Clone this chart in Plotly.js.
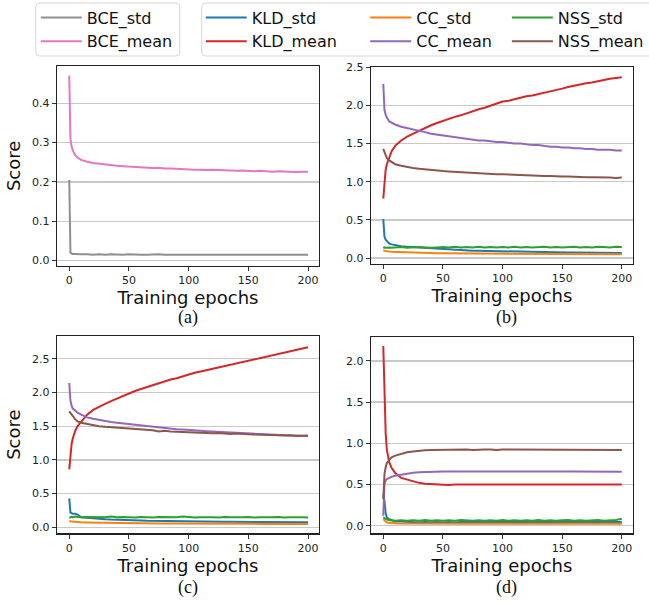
<!DOCTYPE html>
<html><head><meta charset="utf-8">
<script src="https://cdn.plot.ly/plotly-3.0.1.min.js"></script>
<style>html,body{margin:0;padding:0;background:#fff}#chart{width:649px;height:603px}</style>
</head><body><div id="chart"></div>
<script>
// ---------- data ----------
const epochs = [0,1,2,3,5,7,10,15,20,25,30,35,40,45,50,55,60,65,70,75,80,85,90,95,100,105,110,115,120,125,130,135,140,145,150,155,160,165,170,175,180,185,190,195,200];
const xTicks = [0,50,100,150,200];

// (a) BCE
const aBceStd  = [0.205,0.020,0.018,0.017,0.017,0.016,0.016,0.016,0.015,0.016,0.015,0.016,0.015,0.015,0.016,0.015,0.015,0.015,0.016,0.016,0.015,0.015,0.015,0.014,0.015,0.015,0.014,0.015,0.015,0.014,0.015,0.014,0.014,0.015,0.014,0.014,0.015,0.014,0.014,0.014,0.015,0.014,0.014,0.015,0.015];
const aBceMean = [0.470,0.310,0.290,0.280,0.268,0.262,0.256,0.251,0.248,0.246,0.244,0.243,0.241,0.240,0.239,0.238,0.237,0.237,0.235,0.236,0.234,0.234,0.233,0.233,0.232,0.231,0.231,0.230,0.231,0.230,0.229,0.229,0.228,0.229,0.228,0.227,0.228,0.227,0.226,0.227,0.226,0.226,0.225,0.226,0.226];

// (b)
const bKldStd  = [0.51,0.28,0.24,0.22,0.19,0.18,0.17,0.155,0.15,0.145,0.14,0.135,0.13,0.12,0.115,0.11,0.105,0.10,0.10,0.097,0.095,0.093,0.092,0.09,0.09,0.088,0.086,0.085,0.083,0.082,0.08,0.079,0.078,0.077,0.076,0.075,0.074,0.073,0.072,0.071,0.07,0.069,0.068,0.068,0.067];
const bKldMean = [0.78,1.05,1.16,1.23,1.33,1.40,1.47,1.54,1.59,1.63,1.67,1.70,1.74,1.77,1.80,1.82,1.85,1.87,1.90,1.92,1.95,1.97,2.00,2.02,2.05,2.06,2.08,2.10,2.12,2.13,2.15,2.17,2.19,2.20,2.22,2.24,2.26,2.27,2.29,2.30,2.32,2.34,2.35,2.36,2.37];
const bCcStd   = [0.10,0.095,0.09,0.088,0.085,0.082,0.08,0.077,0.075,0.072,0.07,0.068,0.067,0.065,0.064,0.063,0.062,0.061,0.06,0.06,0.059,0.058,0.058,0.057,0.057,0.056,0.056,0.055,0.055,0.055,0.054,0.054,0.054,0.053,0.053,0.053,0.052,0.052,0.052,0.051,0.051,0.051,0.05,0.05,0.05];
const bCcMean  = [2.28,1.94,1.88,1.84,1.79,1.77,1.75,1.72,1.70,1.68,1.66,1.65,1.63,1.62,1.60,1.59,1.58,1.57,1.56,1.55,1.54,1.54,1.53,1.52,1.52,1.51,1.50,1.50,1.49,1.48,1.48,1.47,1.46,1.46,1.45,1.45,1.44,1.44,1.43,1.43,1.42,1.42,1.42,1.41,1.41];
const bNssStd  = [0.13,0.14,0.135,0.14,0.14,0.135,0.14,0.145,0.135,0.14,0.145,0.14,0.135,0.14,0.145,0.14,0.15,0.14,0.145,0.14,0.15,0.14,0.145,0.14,0.145,0.14,0.15,0.14,0.145,0.14,0.145,0.15,0.14,0.145,0.14,0.145,0.15,0.14,0.145,0.14,0.15,0.145,0.14,0.15,0.145];
const bNssMean = [1.43,1.38,1.34,1.31,1.28,1.26,1.23,1.21,1.19,1.18,1.17,1.16,1.15,1.145,1.14,1.135,1.13,1.125,1.12,1.115,1.11,1.11,1.105,1.10,1.10,1.095,1.09,1.09,1.085,1.08,1.08,1.075,1.075,1.07,1.07,1.07,1.065,1.065,1.06,1.06,1.06,1.055,1.055,1.05,1.055];

// (c)
const cKldStd  = [0.43,0.22,0.21,0.20,0.20,0.19,0.15,0.14,0.13,0.125,0.12,0.115,0.11,0.11,0.105,0.10,0.10,0.097,0.095,0.095,0.093,0.092,0.09,0.09,0.089,0.088,0.087,0.086,0.085,0.084,0.083,0.082,0.082,0.081,0.08,0.079,0.078,0.078,0.077,0.076,0.075,0.075,0.074,0.074,0.074];
const cKldMean = [0.86,1.10,1.24,1.32,1.43,1.50,1.57,1.67,1.74,1.79,1.83,1.87,1.91,1.95,1.99,2.02,2.05,2.08,2.10,2.13,2.16,2.19,2.21,2.24,2.27,2.29,2.31,2.33,2.35,2.37,2.39,2.41,2.43,2.45,2.47,2.49,2.51,2.53,2.55,2.57,2.59,2.61,2.63,2.65,2.67];
const cCcStd   = [0.09,0.088,0.085,0.083,0.08,0.078,0.075,0.072,0.07,0.068,0.066,0.065,0.064,0.063,0.062,0.061,0.06,0.06,0.059,0.058,0.058,0.057,0.057,0.056,0.056,0.055,0.055,0.054,0.054,0.054,0.053,0.053,0.053,0.052,0.052,0.052,0.051,0.051,0.051,0.05,0.05,0.05,0.05,0.05,0.05];
const cCcMean  = [2.14,1.88,1.80,1.76,1.73,1.70,1.67,1.63,1.61,1.59,1.57,1.56,1.55,1.54,1.525,1.515,1.505,1.495,1.49,1.48,1.47,1.46,1.455,1.45,1.44,1.435,1.43,1.425,1.42,1.41,1.405,1.40,1.395,1.39,1.385,1.38,1.375,1.37,1.37,1.365,1.36,1.36,1.36,1.355,1.355];
const cNssStd  = [0.14,0.15,0.155,0.15,0.16,0.155,0.15,0.155,0.15,0.155,0.15,0.16,0.15,0.155,0.15,0.145,0.155,0.15,0.145,0.155,0.15,0.155,0.15,0.16,0.15,0.145,0.15,0.155,0.15,0.145,0.155,0.15,0.145,0.15,0.155,0.145,0.15,0.145,0.15,0.155,0.145,0.15,0.145,0.15,0.148];
const cNssMean = [1.72,1.70,1.67,1.65,1.60,1.57,1.55,1.53,1.51,1.50,1.49,1.485,1.475,1.47,1.47,1.46,1.45,1.445,1.44,1.42,1.43,1.42,1.415,1.42,1.41,1.405,1.40,1.40,1.395,1.40,1.39,1.385,1.39,1.38,1.38,1.375,1.375,1.37,1.37,1.365,1.36,1.365,1.355,1.36,1.36];

// (d)
const dKldStd  = [0.38,0.30,0.15,0.10,0.08,0.07,0.05,0.05,0.045,0.045,0.04,0.045,0.04,0.045,0.04,0.045,0.04,0.045,0.045,0.04,0.045,0.04,0.045,0.045,0.04,0.045,0.04,0.045,0.04,0.045,0.045,0.04,0.045,0.04,0.045,0.045,0.04,0.045,0.04,0.045,0.045,0.04,0.045,0.045,0.045];
const dKldMean = [2.18,1.55,1.12,0.92,0.77,0.70,0.64,0.58,0.56,0.535,0.52,0.51,0.505,0.50,0.50,0.495,0.50,0.50,0.495,0.50,0.50,0.495,0.50,0.50,0.50,0.495,0.50,0.50,0.50,0.495,0.50,0.50,0.50,0.50,0.495,0.50,0.50,0.50,0.495,0.50,0.50,0.50,0.50,0.50,0.50];
const dCcStd   = [0.08,0.06,0.05,0.04,0.035,0.03,0.03,0.028,0.027,0.026,0.025,0.026,0.025,0.025,0.024,0.025,0.025,0.026,0.025,0.024,0.025,0.025,0.026,0.025,0.025,0.024,0.025,0.025,0.026,0.025,0.024,0.025,0.025,0.025,0.026,0.025,0.024,0.025,0.025,0.026,0.025,0.025,0.024,0.025,0.025];
const dCcMean  = [0.12,0.50,0.55,0.565,0.58,0.595,0.605,0.62,0.633,0.642,0.648,0.652,0.655,0.656,0.657,0.657,0.658,0.657,0.658,0.658,0.657,0.658,0.658,0.657,0.658,0.658,0.657,0.658,0.658,0.657,0.658,0.657,0.658,0.658,0.657,0.658,0.657,0.658,0.658,0.657,0.657,0.657,0.656,0.657,0.656];
const dNssStd  = [0.10,0.09,0.08,0.075,0.07,0.065,0.06,0.065,0.06,0.065,0.06,0.07,0.06,0.065,0.06,0.065,0.06,0.07,0.065,0.06,0.065,0.06,0.065,0.06,0.07,0.06,0.065,0.06,0.065,0.06,0.07,0.06,0.065,0.06,0.065,0.07,0.06,0.065,0.06,0.065,0.07,0.06,0.065,0.07,0.085];
const dNssMean = [0.32,0.63,0.71,0.76,0.80,0.83,0.85,0.87,0.89,0.90,0.91,0.915,0.918,0.92,0.92,0.925,0.92,0.925,0.925,0.92,0.925,0.925,0.925,0.92,0.925,0.925,0.92,0.925,0.925,0.92,0.925,0.92,0.925,0.92,0.925,0.92,0.925,0.92,0.92,0.925,0.92,0.92,0.92,0.92,0.92];

const panelLabels = ['(a)','(b)','(c)','(d)'];

// ---------- styling ----------
const W = 649, H = 603;
const fx = p => p / W;
const fy = p => 1 - p / H;
const COL = {gray:'#8f8f8f', pink:'#e377c2', blue:'#1f77b4', orange:'#ff7f0e', green:'#2ca02c', red:'#d62728', purple:'#9467bd', brown:'#8c564b'};
const SANS = 'DejaVu Sans, sans-serif';

function line(y, name, color, ax, legend, show) {
  return {x: epochs, y: y, name: name, type: 'scatter', mode: 'lines',
    line: {color: color, width: 2}, xaxis: 'x' + (ax === 1 ? '' : ax), yaxis: 'y' + (ax === 1 ? '' : ax),
    legend: legend, showlegend: show, hoverinfo: 'skip'};
}

const traces = [
  line(aBceStd, 'BCE_std', COL.gray, 1, 'legend', true),
  line(aBceMean, 'BCE_mean', COL.pink, 1, 'legend', true),

  line(bKldStd, 'KLD_std', COL.blue, 2, 'legend2', true),
  line(bKldMean, 'KLD_mean', COL.red, 2, 'legend2', true),
  line(bCcStd, 'CC_std', COL.orange, 2, 'legend3', true),
  line(bCcMean, 'CC_mean', COL.purple, 2, 'legend3', true),
  line(bNssStd, 'NSS_std', COL.green, 2, 'legend4', true),
  line(bNssMean, 'NSS_mean', COL.brown, 2, 'legend4', true),

  line(cKldStd, 'KLD_std', COL.blue, 3, 'legend2', false),
  line(cKldMean, 'KLD_mean', COL.red, 3, 'legend2', false),
  line(cCcStd, 'CC_std', COL.orange, 3, 'legend3', false),
  line(cCcMean, 'CC_mean', COL.purple, 3, 'legend3', false),
  line(cNssStd, 'NSS_std', COL.green, 3, 'legend4', false),
  line(cNssMean, 'NSS_mean', COL.brown, 3, 'legend4', false),

  line(dKldStd, 'KLD_std', COL.blue, 4, 'legend2', false),
  line(dKldMean, 'KLD_mean', COL.red, 4, 'legend2', false),
  line(dCcStd, 'CC_std', COL.orange, 4, 'legend3', false),
  line(dCcMean, 'CC_mean', COL.purple, 4, 'legend3', false),
  line(dNssStd, 'NSS_std', COL.green, 4, 'legend4', false),
  line(dNssMean, 'NSS_mean', COL.brown, 4, 'legend4', false)
];

const frame = {showline: true, mirror: true, linecolor: '#222', linewidth: 1.2, zeroline: false,
  ticks: 'outside', ticklen: 4, tickwidth: 1, tickcolor: '#333',
  tickfont: {family: SANS, size: 11, color: '#222'}};

function xAxis(left, right, anchor) {
  return Object.assign({}, frame, {domain: [fx(left), fx(right)], anchor: anchor, range: [-10.3, 209.2],
    tickvals: xTicks, showgrid: false,
    title: {text: 'Training epochs', font: {family: SANS, size: 18, color: '#111'}, standoff: 1}});
}
function yAxis(top, bottom, anchor, range, dtick, withTitle) {
  const ax = Object.assign({}, frame, {domain: [fy(bottom), fy(top)], anchor: anchor, range: range,
    tick0: 0, dtick: dtick, tickformat: '.1f', showgrid: true, gridcolor: '#c9c9c9', gridwidth: 1.3});
  if (withTitle) ax.title = {text: 'Score', font: {family: SANS, size: 18, color: '#111'}, standoff: 6};
  return ax;
}

function roundRect(x0, y0, x1, y1, r) {
  const X = v => fx(v).toFixed(5), Y = v => fy(v).toFixed(5);
  return 'M' + X(x0 + r) + ',' + Y(y0) + ' L' + X(x1 - r) + ',' + Y(y0) +
    ' Q' + X(x1) + ',' + Y(y0) + ' ' + X(x1) + ',' + Y(y0 + r) +
    ' L' + X(x1) + ',' + Y(y1 - r) + ' Q' + X(x1) + ',' + Y(y1) + ' ' + X(x1 - r) + ',' + Y(y1) +
    ' L' + X(x0 + r) + ',' + Y(y1) + ' Q' + X(x0) + ',' + Y(y1) + ' ' + X(x0) + ',' + Y(y1 - r) +
    ' L' + X(x0) + ',' + Y(y0 + r) + ' Q' + X(x0) + ',' + Y(y0) + ' ' + X(x0 + r) + ',' + Y(y0) + ' Z';
}

function legendAt(leftPx) {
  return {x: fx(leftPx), y: fy(0.5), xanchor: 'left', yanchor: 'top', orientation: 'v',
    bgcolor: 'rgba(0,0,0,0)', borderwidth: 0, itemwidth: 41, traceorder: 'normal',
    font: {family: SANS, size: 16, color: '#111'}};
}

const labelPos = [[189, 317.5], [510, 317.5], [189, 587.5], [510, 587.5]];

const layout = {
  width: W, height: H, margin: {l: 0, r: 0, t: 0, b: 0},
  paper_bgcolor: '#fff', plot_bgcolor: '#fff',
  xaxis: xAxis(57.3, 321, 'y'),
  yaxis: yAxis(66, 265.7, 'x', [-0.013, 0.4945], 0.1, true),
  xaxis2: xAxis(373.3, 636.7, 'y2'),
  yaxis2: yAxis(66.7, 264, 'x2', [-0.077, 2.507], 0.5, false),
  xaxis3: xAxis(57.3, 321, 'y3'),
  yaxis3: yAxis(336, 533.3, 'x3', [-0.088, 2.836], 0.5, true),
  xaxis4: xAxis(373.3, 636.7, 'y4'),
  yaxis4: yAxis(336.7, 533.3, 'x4', [-0.092, 2.293], 0.5, false),
  legend: legendAt(36),
  legend2: legendAt(202),
  legend3: legendAt(367.5),
  legend4: legendAt(510),
  shapes: [
    {type: 'path', xref: 'paper', yref: 'paper', path: roundRect(36, 3, 181, 56, 4), line: {color: '#d6d6d6', width: 1}},
    {type: 'path', xref: 'paper', yref: 'paper', path: roundRect(203, 3, 660, 56, 4), line: {color: '#d6d6d6', width: 1}}
  ],
  annotations: panelLabels.map((t, i) => ({text: t, xref: 'paper', yref: 'paper',
    x: fx(labelPos[i][0]), y: fy(labelPos[i][1]), xanchor: 'center', yanchor: 'middle', showarrow: false,
    font: {family: 'Liberation Serif, serif', size: 18, color: '#111'}}))
};

Plotly.newPlot('chart', traces, layout, {displayModeBar: false, staticPlot: true});
</script>
</body></html>
